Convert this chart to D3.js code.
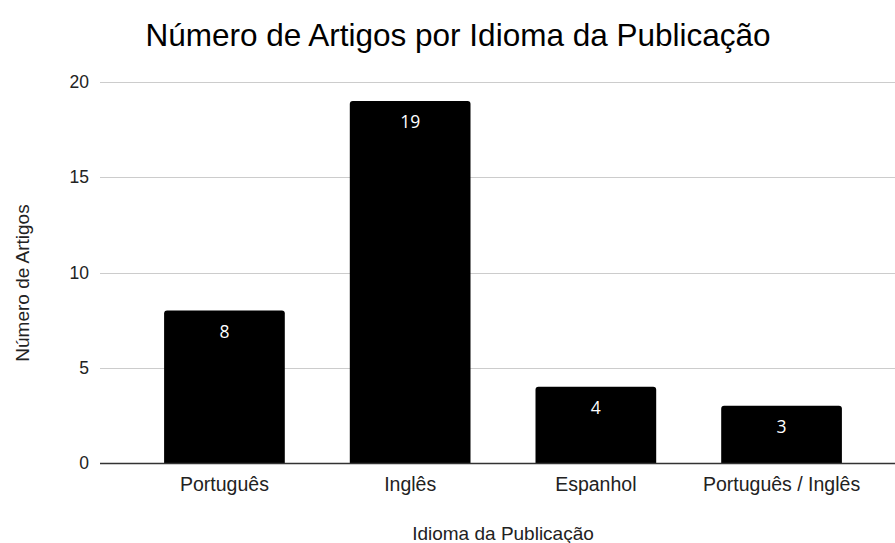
<!DOCTYPE html>
<html>
<head>
<meta charset="utf-8">
<script src="https://cdn.jsdelivr.net/npm/d3@7"></script>
<style>
  body { margin: 0; background: #fff; }
  text { font-family: "Liberation Sans", Arial, sans-serif; }
</style>
</head>
<body>
<div id="hook"></div>
<script>
var categories = ["Português", "Inglês", "Espanhol", "Português / Inglês"];
var values = [8, 19, 4, 3];
var yTicks = [0, 5, 10, 15, 20];

var w = 895;
var h = 543;

var svg = d3.select("#hook")
    .append("svg")
    .attr("width", w)
    .attr("height", h);

var x = d3.scaleBand()
    .domain(categories)
    .range([131.6, 874.4])
    .paddingInner(0.35)
    .paddingOuter(0.175);

var y = d3.scaleLinear()
    .domain([0, 20])
    .range([463, 82]);

// gridlines
svg.selectAll("line.grid")
    .data(yTicks)
    .enter()
    .append("line")
    .attr("class", "grid")
    .attr("x1", 100)
    .attr("x2", w)
    .attr("y1", function (d) { return Math.round(y(d)) + 0.5; })
    .attr("y2", function (d) { return Math.round(y(d)) + 0.5; })
    .style("stroke", "#cccccc")
    .style("stroke-width", 1);

// y tick labels
svg.selectAll("text.ytick")
    .data(yTicks)
    .enter()
    .append("text")
    .attr("class", "ytick")
    .text(function (d) { return d; })
    .attr("text-anchor", "end")
    .attr("x", 89)
    .attr("y", function (d) { return y(d) + 6; })
    .style("font-size", "17.5px")
    .style("fill", "#222");

// bars with slightly rounded top corners
var r = 3;
svg.selectAll("path.bar")
    .data(values)
    .enter()
    .append("path")
    .attr("class", "bar")
    .attr("d", function (d, i) {
        var x0 = x(categories[i]);
        var x1 = x0 + x.bandwidth();
        var y0 = y(d);
        var yb = y(0);
        return "M" + x0 + "," + yb +
            "V" + (y0 + r) +
            "Q" + x0 + "," + y0 + " " + (x0 + r) + "," + y0 +
            "H" + (x1 - r) +
            "Q" + x1 + "," + y0 + " " + x1 + "," + (y0 + r) +
            "V" + yb + "Z";
    })
    .style("fill", "#000000");

// value labels
svg.selectAll("text.val")
    .data(values)
    .enter()
    .append("text")
    .attr("class", "val")
    .text(function (d) { return d; })
    .attr("text-anchor", "middle")
    .attr("x", function (d, i) { return x(categories[i]) + x.bandwidth() / 2; })
    .attr("y", function (d) { return y(d) + 27; })
    .style("font-family", "'Open Sans', sans-serif")
    .style("font-size", "17.5px")
    .style("fill", "#ffffff");

// baseline
svg.append("line")
    .attr("x1", 100)
    .attr("x2", w)
    .attr("y1", y(0) + 0.5)
    .attr("y2", y(0) + 0.5)
    .style("stroke", "#333333")
    .style("stroke-width", 1.3);

// category labels
svg.selectAll("text.cat")
    .data(categories)
    .enter()
    .append("text")
    .attr("class", "cat")
    .text(function (d) { return d; })
    .attr("text-anchor", "middle")
    .attr("x", function (d) { return x(d) + x.bandwidth() / 2; })
    .attr("y", 491)
    .style("font-size", "19.5px")
    .style("fill", "#222");

// title
svg.append("text")
    .text("Número de Artigos por Idioma da Publicação")
    .attr("text-anchor", "middle")
    .attr("x", 458)
    .attr("y", 46)
    .style("font-size", "31.5px")
    .style("fill", "#000");

// x axis title
svg.append("text")
    .text("Idioma da Publicação")
    .attr("text-anchor", "middle")
    .attr("x", 503)
    .attr("y", 540)
    .style("font-size", "19px")
    .style("fill", "#222");

// y axis title
svg.append("text")
    .text("Número de Artigos")
    .attr("text-anchor", "middle")
    .attr("transform", "translate(29,283) rotate(-90)")
    .style("font-size", "19px")
    .style("fill", "#222");
</script>
</body>
</html>
